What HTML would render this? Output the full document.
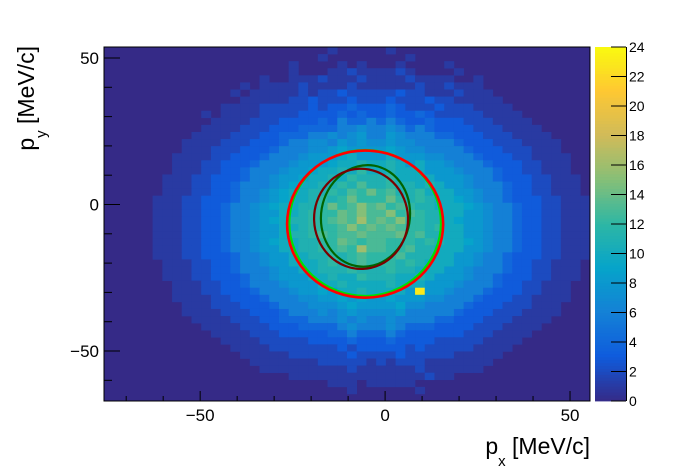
<!DOCTYPE html>
<html><head><meta charset="utf-8"><style>
html,body{margin:0;padding:0;background:#fff;}
svg{display:block;font-family:"Liberation Sans",Arial,sans-serif;}
</style></head><body>
<svg id="chart" width="696" height="472" viewBox="0 0 696 472" xmlns="http://www.w3.org/2000/svg">
<g id="cells"></g>
<g id="ellipses"></g>
<rect x="104" y="47" width="486" height="354" fill="none" stroke="#000" stroke-width="1"/>
<g id="axes"></g>
<g id="palette"></g>
<text x="590" y="454" font-size="23" text-anchor="end">p<tspan font-size="15" dy="12">x</tspan><tspan dy="-12"> [MeV/c]</tspan></text>
<text transform="translate(34,46) rotate(-90)" font-size="23" text-anchor="end">p<tspan font-size="15" dy="12">y</tspan><tspan dy="-12"> [MeV/c]</tspan></text>
</svg>
<script>
// axis ranges
const xRange = [-76, 55.4];
const yRange = [-67.06, 53.75];
const zRange = [0, 24];
const nBinsX = 50;
const nBinsY = 50;
const xTickLabels = [-50, 0, 50];
const yTickLabels = [-50, 0, 50];
const zTickLabels = [0, 2, 4, 6, 8, 10, 12, 14, 16, 18, 20, 22, 24];
// bin contents, top row first, base-36 digits per bin (left to right)
const binRows = [
"0000000000000000000000010000"+"0100000000000000000000",
"0000000000000000000000100000"+"0001000000000000000000",
"0000000000000000000100001010"+"0010000100000000000000",
"0000000000000000000100011211"+"1121000010000000000000",
"0000000000000000100111211121"+"1112111100100000000000",
"0000000000000010111121111211"+"1111211211100000000000",
"0000000000000101111121223222"+"2232211121110000000000",
"0000000000000011111223222322"+"2322232211111000000000",
"0000000000001111222223233433"+"3432223222111100000000",
"0000000000101111222233334343"+"3433432222211110000000",
"0000000000011112223333436446"+"4643343332221111000000",
"0000000000111122233344446676"+"6764643333222111100000",
"0000000001111222334446676786"+"6876664433322211110000",
"0000000011112223334667768787"+"7877666643332221111000",
"0000000011122233346667789888"+"8987766664333222111000",
"0000000111122333466678889a88"+"8a88877666433322111100",
"000000011122333466678889aaba"+"aba8a88766643332211100",
"0000000111223346667889aabaca"+"abaaa88876664332211100",
"000000111223334667889aabacbb"+"bcaaaa8887664333221110",
"00000011122334666789aabbcbdb"+"bcbbaba887666433221110",
"0000001112233466789aabbcbdce"+"cdbbcaaa88766433221110",
"0000011122333466789aabcbcecc"+"cecbcbaa98766433322111",
"000001112233466789aabbcecdfd"+"ecdcbbaaa9876643322111",
"000001112233466788aabcccedfd"+"dfcdcbbaa8876643322111",
"000001112233466789abbccdedgd"+"edfccbba98876643322111",
"000001112233466788aabcccdfde"+"dedccbcaa8876643322111",
"000001112233466788abbcdcdded"+"ddecdbbaa8876643322111",
"000001112233466789aabbccedcd"+"dcccbcbaa9876643322111",
"000001112233466788aabbccdcgd"+"dccdbbaaa8876643322111",
"0000011122333466788aabbcbcdc"+"ccdbbbaa88766433322111",
"0000001112233466788aaabcbcdc"+"ccbcbaaa88766433221110",
"00000011122334666788aabbbcbb"+"bcbbaaa887666433221110",
"000000111223334667888aabaacb"+"bbaaba8887664333221110",
"0000000111223346667888aabaaa"+"abaaa88876664332211100",
"000000011122333466678898aaba"+"aaa8n88766643332211100",
"0000000111122333466677889898"+"8988877666433322111100",
"0000000011122233346667778988"+"8897766664333222111000",
"0000000011112223334666767877"+"7786666643332221111000",
"0000000001111222334446667676"+"6766664433322211110000",
"0000000000111122233344446766"+"6764443333222111100000",
"0000000000011112223333344644"+"4643333332221111000000",
"0000000000001111222223333433"+"3433332222211110000000",
"0000000000000111122222223233"+"3332322222111100000000",
"0000000000000011111222222322"+"2232222211111000000000",
"0000000000000001111111222221"+"2122211111110000000000",
"0000000000000000111111111211"+"1111211111100000000000",
"0000000000000000000111111111"+"1111121100000000000000",
"0000000000000000000000011101"+"1111000000000000000000",
"0000000000000000000000000100"+"0000100000000000000000",
"0000000000000000000000000000"+"0000000000000000000000"
];
// fitted ellipses: centre x, centre y, radius x, radius y (MeV/c), rotation deg
const ellipseCx = [-5.4, -5.4, -5.3, -6.5];
const ellipseCy = [-6.3, -6.7, -3.9, -4.9];
const ellipseRx = [20.5, 21.1, 12.0, 12.7];
const ellipseRy = [24.9, 25.1, 17.4, 17.1];
const ellipseRot = [0, 0, 10, -2];
const ellipseNames = ['green-ellipse', 'red-ellipse', 'dark-green-ellipse', 'dark-red-ellipse'];

const FX0 = 104, FX1 = 590, FY0 = 47, FY1 = 401;
const NS = 'http://www.w3.org/2000/svg';
function sx(v){ return FX0 + (v - xRange[0]) / (xRange[1] - xRange[0]) * (FX1 - FX0); }
function sy(v){ return FY1 - (v - yRange[0]) / (yRange[1] - yRange[0]) * (FY1 - FY0); }
const stops = [[0,53,42,135],[0.125,15,92,221],[0.25,20,129,214],[0.375,6,164,202],[0.5,46,183,164],[0.625,135,191,119],[0.75,209,187,89],[0.875,254,200,50],[1,249,251,14]];
function color(v){
  let t = Math.max(0, Math.min(1, (v - zRange[0]) / (zRange[1] - zRange[0])));
  t = Math.floor(t * 254) / 254;
  for (let i = 1; i < stops.length; i++) {
    if (t <= stops[i][0]) {
      const a = stops[i-1], b = stops[i], f = (t - a[0]) / (b[0] - a[0]);
      return 'rgb(' + [1,2,3].map(k => Math.round(a[k] + (b[k]-a[k]) * f)).join(',') + ')';
    }
  }
  return 'rgb(249,251,14)';
}
function mk(tag, attrs, parent){
  const e = document.createElementNS(NS, tag);
  for (const k in attrs) e.setAttribute(k, attrs[k]);
  parent.appendChild(e);
  return e;
}
const cells = document.getElementById('cells');
const bg = mk('rect', {x:FX0, y:FY0, width:FX1-FX0, height:FY1-FY0, fill:color(0)}, cells);


const bw = (xRange[1]-xRange[0]) / nBinsX, bh = (yRange[1]-yRange[0]) / nBinsY;
binRows.forEach((row, j) => {
  for (let i = 0; i < row.length && i < nBinsX; i++) {
    const v = parseInt(row[i], 36);
    if (!v) continue;
    const x0 = sx(xRange[0] + i*bw), x1 = sx(xRange[0] + (i+1)*bw);
    const yTop = yRange[1] - j*bh, yBot = yRange[1] - (j+1)*bh;
    const r = mk('rect', {x:x0.toFixed(2), y:sy(yTop).toFixed(2), width:(x1-x0+0.3).toFixed(2), height:(sy(yBot)-sy(yTop)+0.3).toFixed(2), fill:color(v)}, cells);
    
    
  }
});
const eg = document.getElementById('ellipses');
const eColors = ['#00e000', '#ff0000', '#006400', '#7a0000'];
const eWidths = [2.2, 2.6, 2.2, 2.2];
ellipseCx.forEach((cx, k) => {
  const px = sx(cx), py = sy(ellipseCy[k]);
  const rx = ellipseRx[k] * (FX1-FX0)/(xRange[1]-xRange[0]);
  const ry = ellipseRy[k] * (FY1-FY0)/(yRange[1]-yRange[0]);
  const e = mk('ellipse', {cx:px, cy:py, rx:rx, ry:ry, fill:'none', stroke:eColors[k], 'stroke-width':eWidths[k], transform:'rotate('+ellipseRot[k]+' '+px+' '+py+')'}, eg);
  
  
});
const ax = document.getElementById('axes');
for (let v = -70; v <= 50; v += 10) {
  const major = xTickLabels.includes(v);
  const t = mk('line', {x1:sx(v), x2:sx(v), y1:FY1, y2:FY1-(major?10:5), stroke:'#000', 'stroke-width':1}, ax);
  
  
}
xTickLabels.forEach(v => {
  const t = mk('text', {x:sx(v), y:FY1+20, 'font-size':17, 'text-anchor':'middle'}, ax);
  t.textContent = v < 0 ? '\u2212' + Math.abs(v) : String(v);
  
  
});
for (let v = -60; v <= 50; v += 10) {
  const major = yTickLabels.includes(v);
  const t = mk('line', {x1:FX0, x2:FX0+(major?16:8), y1:sy(v), y2:sy(v), stroke:'#000', 'stroke-width':1}, ax);
  
  
}
yTickLabels.forEach(v => {
  const t = mk('text', {x:FX0-5, y:sy(v)+6, 'font-size':17, 'text-anchor':'end'}, ax);
  t.textContent = v < 0 ? '\u2212' + Math.abs(v) : String(v);
  
  
});
const pg = document.getElementById('palette');
const PX0 = 595, PX1 = 626;
function pz(v){ return FY1 - (v - zRange[0]) / (zRange[1]-zRange[0]) * (FY1 - FY0); }
for (let s = 0; s < 120; s++) {
  const v0 = zRange[0] + s*(zRange[1]-zRange[0])/120, v1 = zRange[0] + (s+1)*(zRange[1]-zRange[0])/120;
  const r = mk('rect', {x:PX0, y:pz(v1), width:PX1-PX0, height:pz(v0)-pz(v1)+0.4, fill:color((v0+v1)/2)}, pg);
  
  
}
const pl = mk('line', {x1:PX1+0.5, x2:PX1+0.5, y1:FY0, y2:FY1, stroke:'#000', 'stroke-width':1}, pg);


zTickLabels.forEach(v => {
  const t = mk('line', {x1:PX1-15, x2:PX1, y1:pz(v), y2:pz(v), stroke:'#000', 'stroke-width':1}, pg);
  
  
  const l = mk('text', {x:PX1+3, y:pz(v)+5, 'font-size':14}, pg);
  l.textContent = String(v);
  
  
});
</script>
</body></html>
